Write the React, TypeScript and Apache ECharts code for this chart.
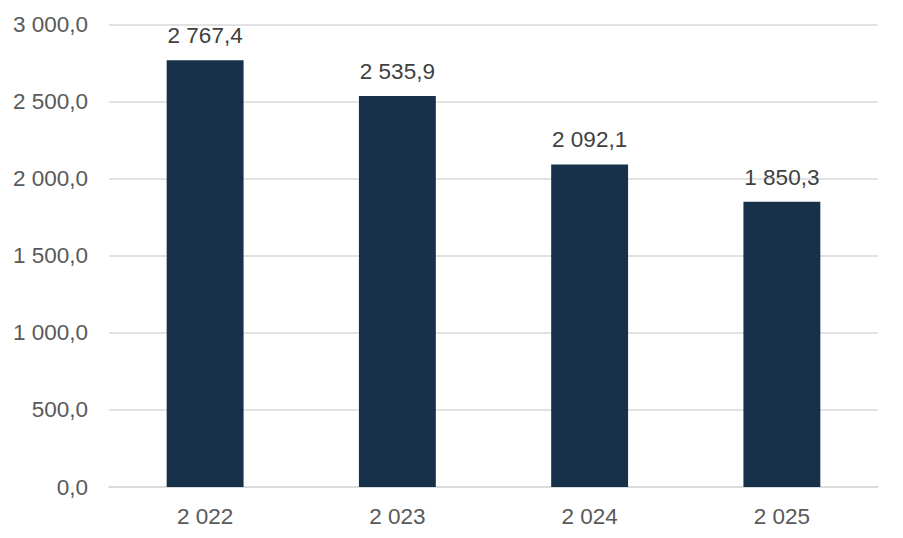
import React, { useEffect, useRef } from "react";
import * as echarts from "echarts";

const categories = ["2 022", "2 023", "2 024", "2 025"];
const values = [2767.4, 2535.9, 2092.1, 1850.3];
const yTicks = { min: 0, max: 3000, interval: 500 };

function fmt(v: number): string {
  const [i, d] = v.toFixed(1).split(".");
  return i.replace(/\B(?=(\d{3})+(?!\d))/g, " ") + "," + d;
}

export default function App() {
  const ref = useRef<HTMLDivElement>(null);
  useEffect(() => {
    document.body.style.margin = "0";
    const chart = echarts.init(ref.current!, null, { renderer: "svg" });
    chart.setOption({
      animation: false,
      backgroundColor: "#ffffff",
      textStyle: { fontFamily: "Liberation Sans, Arial, sans-serif" },
      grid: { left: 109, right: 25, top: 24.5, bottom: 51 },
      xAxis: {
        type: "category",
        data: categories,
        axisLine: { lineStyle: { color: "#d9d9d9", width: 1.5 } },
        axisTick: { show: false },
        axisLabel: { color: "#595959", fontSize: 22.5, margin: 18 },
      },
      yAxis: {
        type: "value",
        min: yTicks.min,
        max: yTicks.max,
        interval: yTicks.interval,
        axisLine: { show: false },
        axisTick: { show: false },
        splitLine: { lineStyle: { color: "#d9d9d9", width: 1.5 } },
        axisLabel: {
          color: "#595959",
          fontSize: 22.5,
          margin: 21,
          formatter: (v: number) => fmt(v),
        },
      },
      series: [
        {
          type: "bar",
          data: values,
          barWidth: "40%",
          itemStyle: { color: "#17314b" },
          label: {
            show: true,
            position: "top",
            distance: 13,
            color: "#404040",
            fontSize: 22.5,
            formatter: (p: any) => fmt(p.value),
          },
        },
      ],
    });
    return () => chart.dispose();
  }, []);
  return <div ref={ref} style={{ width: 903, height: 538 }} />;
}
